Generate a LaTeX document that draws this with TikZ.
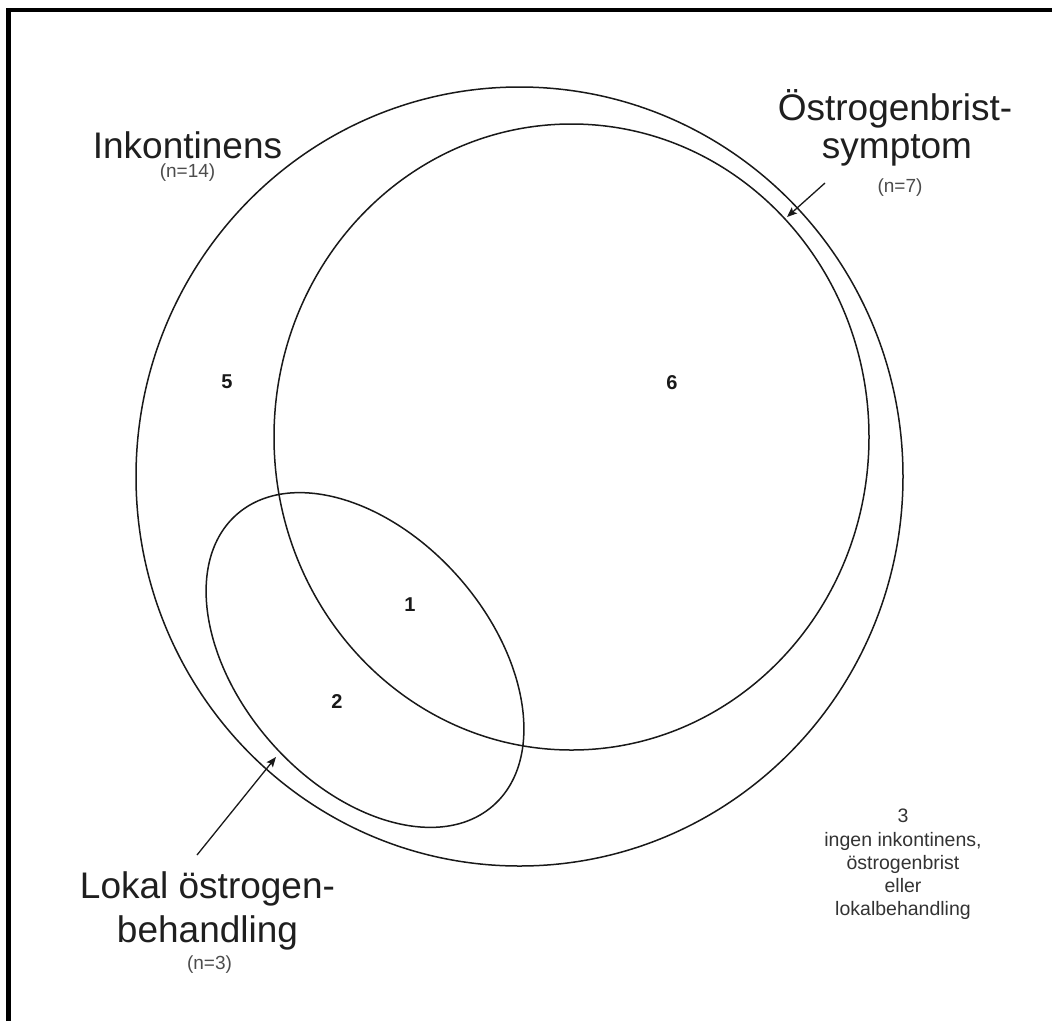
\documentclass[tikz,border=0pt]{standalone}
\usepackage{fontspec}
\setmainfont{Liberation Sans}
\usetikzlibrary{arrows.meta}
\begin{document}
\begin{tikzpicture}[x=1pt,y=-1pt,
  setshape/.style={draw=black!90, line width=1.5},
  bigtxt/.style={font=\fontsize{37}{42}\selectfont, text=black!88, inner sep=0, anchor=base},
  smalltxt/.style={font=\fontsize{19}{22}\selectfont, text=black!70, inner sep=0, anchor=base},
  notetxt/.style={font=\fontsize{19.5}{23}\selectfont, text=black!80, inner sep=0, anchor=base},
  numtxt/.style={font=\fontsize{20}{24}\selectfont\bfseries, text=black!90, inner sep=0, anchor=base},
  pointer/.style={draw=black!90, line width=1.3, -{Stealth[length=10, width=8, inset=2]}}
]
\useasboundingbox (0,0) rectangle (1052,1021);
\fill[white] (0,0) rectangle (1052,1021);
\draw[line width=4.5] (8.3,1021) -- (8.3,10) -- (1052,10);

% sets
\draw[setshape] (519.5,476.5) ellipse [x radius=383.5, y radius=389.5];
\draw[setshape] (571.5,437) ellipse [x radius=297.5, y radius=313];
\draw[setshape, rotate around={-48.6:(365,660)}] (365,660) ellipse [x radius=194, y radius=125];

% labels
\node[bigtxt] (ink) at (187.5,158) {Inkontinens};
\node[smalltxt] (inkn) at (187.5,177) {(n=14)};
\node[bigtxt] (ost1) at (895,120) {Östrogenbrist-};
\node[bigtxt] (ost2) at (897,158) {symptom};
\node[smalltxt] (ostn) at (900,192) {(n=7)};
\node[bigtxt] (lok1) at (207.5,898) {Lokal östrogen-};
\node[bigtxt] (lok2) at (207.5,942) {behandling};
\node[smalltxt] (lokn) at (209.5,969) {(n=3)};

% region counts
\node[numtxt] (r5) at (227,388) {5};
\node[numtxt] (r6) at (672,389) {6};
\node[numtxt] (r1) at (410,611) {1};
\node[numtxt] (r2) at (337,708) {2};

% outside note
\node[notetxt] (n0) at (903,822) {3};
\node[notetxt] (n1) at (903,846) {ingen inkontinens,};
\node[notetxt] (n2) at (903,869) {östrogenbrist};
\node[notetxt] (n3) at (903,892) {eller};
\node[notetxt] (n4) at (903,915) {lokalbehandling};

% pointers
\coordinate (tailA) at (825,183);
\coordinate (tipA) at (787,217);
\coordinate (tailB) at (197,855);
\coordinate (tipB) at (276,757);
\draw[pointer] (tailA) -- (tipA);
\draw[pointer] (tailB) -- (tipB);
\end{tikzpicture}
\end{document}
